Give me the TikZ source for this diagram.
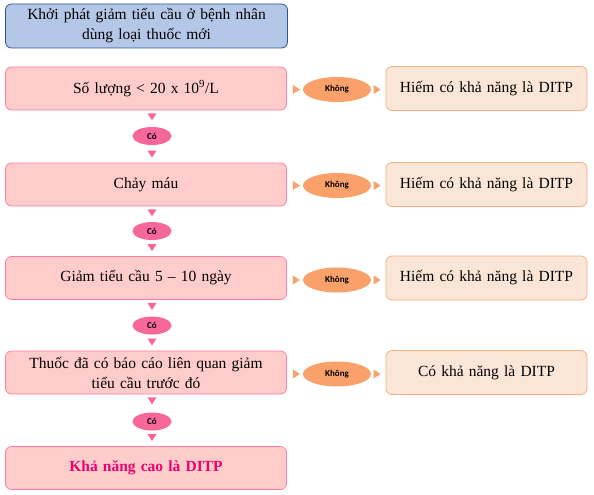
\documentclass[tikz,border=0pt]{standalone}
\usepackage{fontspec}
\setmainfont{Liberation Serif}
\newfontfamily\calfont{Carlito}
\usetikzlibrary{calc,shapes.geometric}
\definecolor{topfill}{HTML}{B4C7E7}
\definecolor{topdraw}{HTML}{2F5597}
\definecolor{pinkfill}{HTML}{FFCCCC}
\definecolor{pinkdraw}{HTML}{FF7EA3}
\definecolor{pinkdot}{HTML}{F7679A}
\definecolor{orfill}{HTML}{FBE5D6}
\definecolor{ordraw}{HTML}{F4B183}
\definecolor{ordot}{HTML}{F9A06B}
\definecolor{finaltxt}{HTML}{F0006A}
\tikzset{
  basebox/.style={rounded corners=6pt, inner sep=0pt, line width=0.8pt, align=center,
    font=\fontsize{15.5}{20}\selectfont, text width=260pt},
  topbox/.style={basebox, fill=topfill, draw=topdraw, minimum width=282pt, minimum height=44pt},
  stepbox/.style={basebox, fill=pinkfill, draw=pinkdraw, minimum width=281pt, minimum height=43pt},
  resbox/.style={basebox, fill=orfill, draw=ordraw, minimum width=201pt, minimum height=44pt, text width=195pt},
  yesdot/.style={ellipse, fill=pinkdot, minimum width=39pt, minimum height=18pt, inner sep=0pt,
    font=\calfont\bfseries\fontsize{9}{10}\selectfont},
  nodot/.style={ellipse, fill=ordot, minimum width=68pt, minimum height=25pt, inner sep=0pt,
    font=\calfont\bfseries\fontsize{9}{10}\selectfont},
}
\newcommand{\downtri}[2]{\fill[pinkdot] ($#1+(-4.5,#2)$) -- ($#1+(4.5,#2)$) -- ($#1+(0,#2+7)$) -- cycle;}
\newcommand{\righttri}[2]{\fill[ordot] ($#1+(#2,-4.5)$) -- ($#1+(#2,4.5)$) -- ($#1+(#2+7,0)$) -- cycle;}
\begin{document}
\begin{tikzpicture}[x=1pt,y=-1pt]
\useasboundingbox (0,0) rectangle (594,495);
\node[topbox] (t) at (146.5,26) {Khởi phát giảm tiểu cầu ở bệnh nhân\\dùng loại thuốc mới};
\node[stepbox] (b1) at (146,88.5) {Số lượng < 20 x 10\textsuperscript{9}/L};
\node[stepbox] (b2) at (146,184.5) {Chảy máu};
\node[stepbox] (b3) at (146,278) {Giảm tiểu cầu 5 – 10 ngày};
\node[stepbox] (b4) at (146,372.5) {Thuốc đã có báo cáo liên quan giảm\\tiểu cầu trước đó};
\node[stepbox] (b5) at (146,468) {\color{finaltxt}\bfseries Khả năng cao là DITP};
\node[yesdot] (y1) at (152,136) {Có};
\node[yesdot] (y2) at (152,231) {Có};
\node[yesdot] (y3) at (152,325.5) {Có};
\node[yesdot] (y4) at (152,421.5) {Có};
\foreach \b/\n in {b1/y1,b2/y2,b3/y3,b4/y4}{
  \downtri{(\b.south -| \n)}{3}
}
\foreach \b/\n in {b2/y1,b3/y2,b4/y3,b5/y4}{
  \downtri{(\b.north -| \n)}{-12}
}
\node[resbox] (r1) at (486.5,88.5) {Hiếm có khả năng là DITP};
\node[resbox] (r2) at (486.5,184.5) {Hiếm có khả năng là DITP};
\node[resbox] (r3) at (486.5,278) {Hiếm có khả năng là DITP};
\node[resbox] (r4) at (486.5,372.5) {Có khả năng là DITP};
\node[nodot] (n1) at (337,89.5) {Không};
\node[nodot] (n2) at (337,185.5) {Không};
\node[nodot] (n3) at (337,280) {Không};
\node[nodot] (n4) at (337,374) {Không};
\foreach \b/\n/\r in {b1/n1/r1,b2/n2/r2,b3/n3/r3,b4/n4/r4}{
  \righttri{(\b.east |- \n)}{6}
  \righttri{(\r.west |- \n)}{-12}
}
\end{tikzpicture}
\end{document}
